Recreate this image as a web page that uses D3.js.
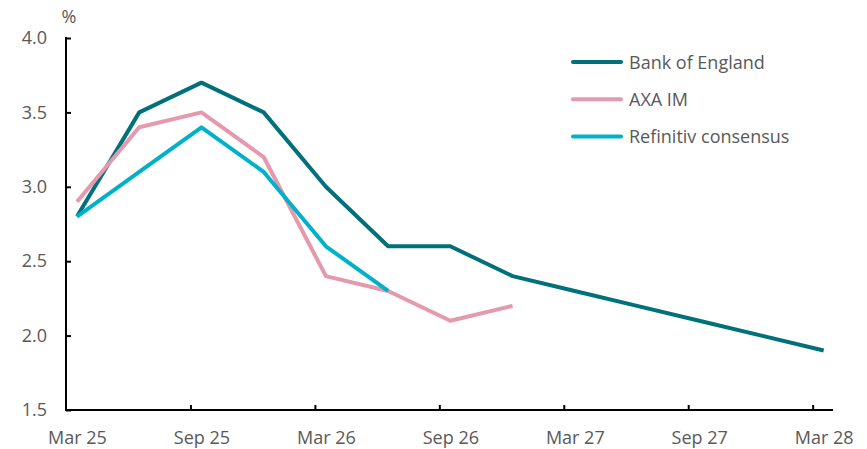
<!DOCTYPE html>
<html><head><meta charset="utf-8">
<script src="https://cdn.jsdelivr.net/npm/d3@7"></script>
<style>body{margin:0;background:#fff}svg{display:block}</style>
</head><body>
<script>
const quarters = ["Mar 25","Jun 25","Sep 25","Dec 25","Mar 26","Jun 26","Sep 26","Dec 26","Mar 27","Jun 27","Sep 27","Dec 27","Mar 28"];
const boe = [2.8,3.5,3.7,3.5,3.0,2.6,2.6,2.4,2.3,2.2,2.1,2.0,1.9];
const axa = [2.9,3.4,3.5,3.2,2.4,2.3,2.1,2.2];
const refinitiv = [2.8,3.1,3.4,3.1,2.6,2.3];
const seriesNames = ["Bank of England","AXA IM","Refinitiv consensus"];
const seriesColors = ["#00707B","#E599AC","#00B1CA"];
const yTicks = [1.5,2.0,2.5,3.0,3.5,4.0];
const xLabelIdx = [0,2,4,6,8,10,12];

const W=867,H=449;
const svg=d3.select("body").append("svg").attr("width",W).attr("height",H);
const font="Open Sans, sans-serif";
const grey="#595959";
const fs=18;

const x=d3.scaleLinear().domain([-0.177,12.15]).range([66,833]);
const y=d3.scaleLinear().domain([1.5,4.0]).range([410,38]);

// y axis labels
const gy=svg.append("g").attr("transform","translate(66,0)")
  .call(d3.axisLeft(y).tickValues(yTicks).tickSize(0).tickPadding(19).tickFormat(d3.format(".1f")));
gy.select(".domain").remove();
gy.selectAll("text").attr("font-family",font).attr("font-size",fs).attr("fill",grey);
// y tick marks
svg.append("g").attr("transform","translate(66,0)")
  .call(d3.axisRight(y).tickValues(yTicks).tickSize(5).tickFormat(""))
  .call(g=>{g.select(".domain").remove();g.selectAll("line").attr("stroke","#000").attr("stroke-width",2);});

// x axis labels
const gx=svg.append("g").attr("transform","translate(0,410)")
  .call(d3.axisBottom(x).tickValues(xLabelIdx).tickSize(0).tickPadding(21).tickFormat(i=>quarters[i]));
gx.select(".domain").remove();
gx.selectAll("text").attr("font-family",font).attr("font-size",fs).attr("fill",grey);
// x tick marks (offset from data points)
svg.append("g").attr("transform","translate(0,410)")
  .call(d3.axisTop(x).tickValues(xLabelIdx.slice(1).map(i=>i-0.177)).tickSize(5).tickFormat(""))
  .call(g=>{g.select(".domain").remove();g.selectAll("line").attr("stroke","#000").attr("stroke-width",2);});

// axis lines
svg.append("line").attr("x1",66).attr("x2",66).attr("y1",y(4.0)-1).attr("y2",411).attr("stroke","#000").attr("stroke-width",2);
svg.append("line").attr("x1",65).attr("x2",833).attr("y1",410).attr("y2",410).attr("stroke","#000").attr("stroke-width",2);

svg.append("text").attr("x",69).attr("y",23).attr("text-anchor","middle").attr("font-family",font).attr("font-size",fs).attr("fill",grey).text("%");

const line=d3.line().x((d,i)=>x(i)).y(d=>y(d));
[boe,axa,refinitiv].forEach((s,k)=>{
  svg.append("path").attr("d",line(s)).attr("fill","none").attr("stroke",seriesColors[k])
    .attr("stroke-width",4).attr("stroke-linejoin","round");
});
// legend
seriesNames.forEach((n,k)=>{
  const yy=62+k*37.3;
  svg.append("line").attr("x1",573).attr("x2",621).attr("y1",yy).attr("y2",yy).attr("stroke",seriesColors[k]).attr("stroke-width",4).attr("stroke-linecap","round");
  svg.append("text").attr("x",629).attr("y",yy+6.5).attr("font-family",font).attr("font-size",fs).attr("fill",grey).text(n);
});
</script>
</body></html>
